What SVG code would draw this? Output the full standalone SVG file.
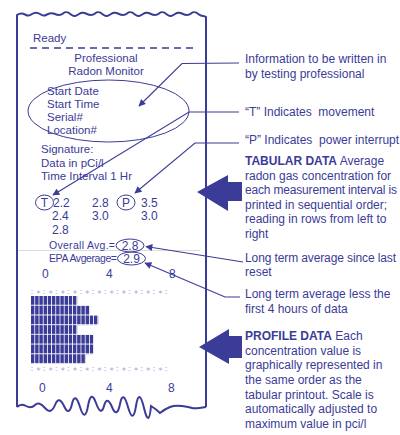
<svg xmlns="http://www.w3.org/2000/svg" width="400" height="435" viewBox="0 0 400 435">
<style>
.t{font-family:"Liberation Sans",Arial,sans-serif;fill:#3b3b98;white-space:pre}
.p{font-size:11.5px}
.n{font-size:12px}
.s{font-size:10.5px}
.r{font-size:12px}
.b{font-weight:bold}
.edge{fill:none;stroke:#3b3b98;stroke-width:2}
.con{fill:none;stroke:#3b3b98;stroke-width:1.1}
.ring{fill:none;stroke:#3b3b98;stroke-width:1}
</style>
<defs>
<marker id="ah" viewBox="0 0 10 10" refX="9" refY="5" markerWidth="8" markerHeight="7" markerUnits="userSpaceOnUse" orient="auto">
<path d="M0,0 L10,5 L0,10 z" fill="#3b3b98"/>
</marker>
<pattern id="cells" patternUnits="userSpaceOnUse" x="31" y="296" width="4.2" height="9.7">
<rect x="0" y="0" width="3.4" height="8.9" fill="#3b3b98"/>
</pattern>
<pattern id="dots" patternUnits="userSpaceOnUse" x="31" y="289" width="12.2" height="6">
<circle cx="1" cy="1.5" r="0.6" fill="#9a9ad0"/>
<circle cx="1" cy="4.5" r="0.6" fill="#9a9ad0"/>
<path d="M5.8,3 H9.2 M7.5,1.3 V4.7" stroke="#9a9ad0" stroke-width="0.8"/>
</pattern>
<pattern id="dots2" patternUnits="userSpaceOnUse" x="31" y="366" width="12.2" height="6">
<circle cx="1" cy="1.5" r="0.6" fill="#9a9ad0"/>
<circle cx="1" cy="4.5" r="0.6" fill="#9a9ad0"/>
<path d="M5.8,3 H9.2 M7.5,1.3 V4.7" stroke="#9a9ad0" stroke-width="0.8"/>
</pattern>
</defs>

<g id="paper">
<path class="edge" d="M17,407 V15 C20,13 22,13 25,14.5 S29,16 32,14 S37,12 40,14 S44,16 47,14.5 S52,12.5 55,14 S60,16 63,13.5 S68,12 71,14.5 S76,16 79,14 S84,12.5 87,14 S92,16 95,13.5 S100,12 103,14.5 S108,16 111,14 S116,12.5 119,14 S124,16 127,13.5 S132,12 135,14.5 S140,16 143,14 S148,12.5 151,14 S156,16 159,13.5 S164,12 167,14.5 S172,16 175,14 S180,12.5 183,14 S188,16 191,13.5 S196,12 199,14.5 S204,15 206,17 V407"/>
<path class="edge" d="M17,407 Q21,403 26,406 T35,405 T45,408 T55,405 T64,406 T72,404 T80,407 T88,406 T96,403 T104,406 T112,407 T120,404 T128,407 T136,406 T144,408 T151,406 Q156,409 160,413 Q165,409 170,407 T182,406 T192,408 T206,407"/>
<line x1="18" y1="250.5" x2="200" y2="250.5" stroke="#dcdcdc" stroke-width="1"/>
</g>

<g id="header">
<text class="t p" x="33" y="42">Ready</text>
<line x1="30" y1="48" x2="197" y2="48" stroke="#3b3b98" stroke-width="1.3" stroke-dasharray="7,5"/>
<text class="t p" x="106" y="62" text-anchor="middle">Professional</text>
<text class="t p" x="106" y="75" text-anchor="middle">Radon Monitor</text>
</g>

<g id="info-block">
<ellipse class="ring" cx="108.5" cy="111" rx="80.5" ry="31"/>
<text class="t p" x="47" y="95">Start Date</text>
<text class="t p" x="47" y="108">Start Time</text>
<text class="t p" x="47" y="121">Serial#</text>
<text class="t p" x="47" y="134">Location#</text>
</g>

<g id="settings">
<text class="t p" x="41" y="153">Signature:</text>
<text class="t p" x="41" y="167">Data in pCi/l</text>
<text class="t p" x="41" y="180">Time Interval 1 Hr</text>
</g>

<g id="tabular">
<ellipse class="ring" cx="44.5" cy="202.5" rx="9" ry="7.5"/>
<text class="t n" x="44.5" y="207" text-anchor="middle">T</text>
<ellipse class="ring" cx="126" cy="202.5" rx="9" ry="7.5"/>
<text class="t n" x="126" y="207" text-anchor="middle">P</text>
<text class="t n" x="53" y="207">2.2</text>
<text class="t n" x="92" y="207">2.8</text>
<text class="t n" x="141" y="207">3.5</text>
<text class="t n" x="52" y="220">2.4</text>
<text class="t n" x="92" y="220">3.0</text>
<text class="t n" x="141" y="220">3.0</text>
<text class="t n" x="52" y="234">2.8</text>
</g>

<g id="averages">
<text class="t s" x="49" y="249" textLength="66">Overall Avg.=</text>
<ellipse class="ring" cx="130" cy="245.5" rx="14" ry="6.5"/>
<text class="t n" x="130" y="250" text-anchor="middle">2.8</text>
<text class="t s" x="49" y="262" textLength="68">EPA Avgerage=</text>
<ellipse class="ring" cx="131.5" cy="258.5" rx="14" ry="6.5"/>
<text class="t n" x="131.5" y="263" text-anchor="middle">2.9</text>
</g>

<g id="profile">
<text class="t n" x="42" y="278">0</text>
<text class="t n" x="106" y="278">4</text>
<text class="t n" x="169" y="278">8</text>
<rect x="31" y="289" width="136" height="6" fill="url(#dots)"/>
<rect x="31" y="296" width="46.2" height="9.7" fill="url(#cells)"/>
<rect x="31" y="305.7" width="58.8" height="9.7" fill="url(#cells)"/>
<rect x="31" y="315.4" width="67.2" height="9.7" fill="url(#cells)"/>
<rect x="31" y="325.1" width="46.2" height="9.7" fill="url(#cells)"/>
<rect x="31" y="334.8" width="63" height="9.7" fill="url(#cells)"/>
<rect x="31" y="344.5" width="63" height="9.7" fill="url(#cells)"/>
<rect x="31" y="354.2" width="54.6" height="9.7" fill="url(#cells)"/>
<rect x="31" y="366" width="136" height="6" fill="url(#dots2)"/>
<text class="t n" x="39" y="392">0</text>
<text class="t n" x="106" y="392">4</text>
<text class="t n" x="168" y="392">8</text>
</g>

<g id="big-arrows">
<path d="M197,192 L228,175 L228,182 L242,182 L242,201 L228,201 L228,211 Z" fill="#3b3b98"/>
<path d="M199,347 L229,329 L229,336 L242,336 L242,358 L229,358 L229,364 Z" fill="#3b3b98"/>
</g>

<g id="connectors">
<polyline class="con" points="239,63 182,63.5 139,106" marker-end="url(#ah)"/>
<polyline class="con" points="239,112 189,112 53,195" marker-end="url(#ah)"/>
<polyline class="con" points="239,143 195,143 135,193" marker-end="url(#ah)"/>
<polyline class="con" points="243,262 146,246.5" marker-end="url(#ah)"/>
<polyline class="con" points="240,297 225,297 145,263" marker-end="url(#ah)"/>
</g>

<g id="annotations">
<text class="t r" x="245" y="63">Information to be written in</text>
<text class="t r" x="245" y="78">by testing professional</text>
<text class="t r" x="245" y="116">“T” Indicates  movement</text>
<text class="t r" x="245" y="144">“P” Indicates  power interrupt</text>
<text class="t r" x="245" y="165"><tspan class="b">TABULAR DATA</tspan> Average</text>
<text class="t r" x="245" y="179.5">radon gas concentration for</text>
<text class="t r" x="245" y="194" textLength="152">each measurement interval is</text>
<text class="t r" x="245" y="208.5">printed in sequential order;</text>
<text class="t r" x="245" y="223">reading in rows from left to</text>
<text class="t r" x="245" y="237.5">right</text>
<text class="t r" x="245" y="262" textLength="151">Long term average since last</text>
<text class="t r" x="245" y="276">reset</text>
<text class="t r" x="245" y="298">Long term average less the</text>
<text class="t r" x="245" y="312.5">first 4 hours of data</text>
<text class="t r" x="245" y="340"><tspan class="b">PROFILE DATA</tspan> Each</text>
<text class="t r" x="245" y="354.5">concentration value is</text>
<text class="t r" x="245" y="369">graphically represented in</text>
<text class="t r" x="245" y="384">the same order as the</text>
<text class="t r" x="245" y="398.5">tabular printout. Scale is</text>
<text class="t r" x="245" y="413">automatically adjusted to</text>
<text class="t r" x="245" y="427.5">maximum value in pci/l</text>
</g>
</svg>
